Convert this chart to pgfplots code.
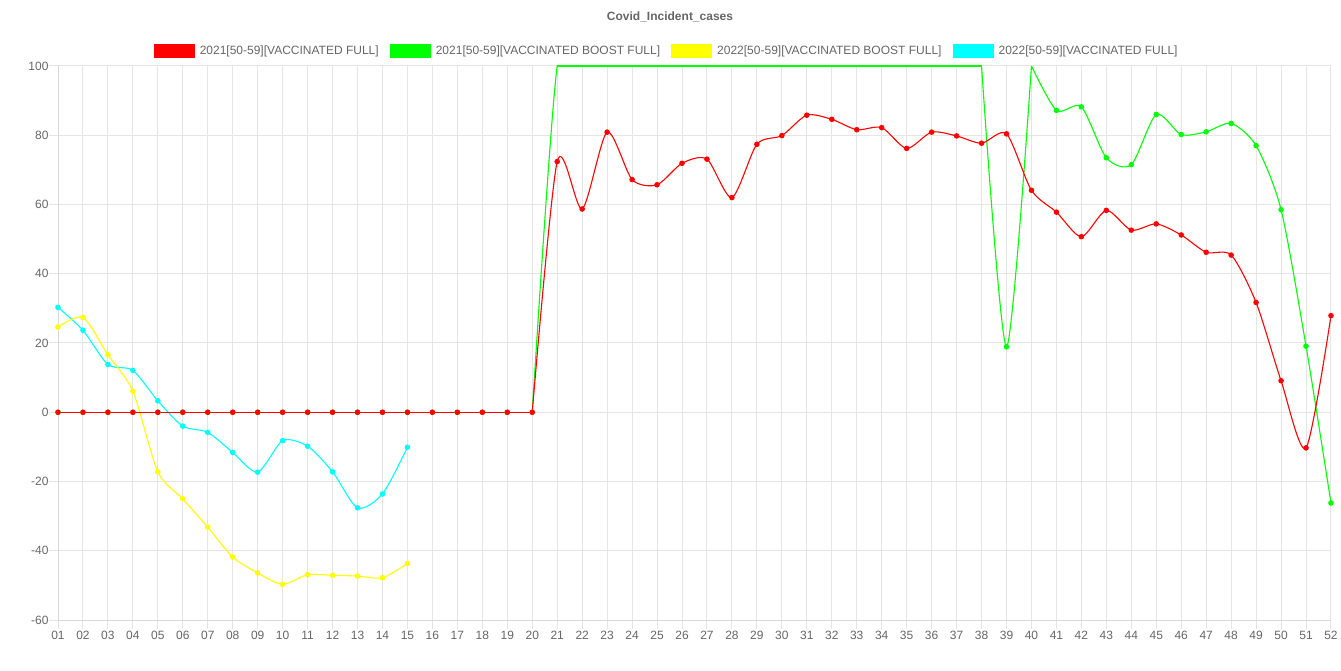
\documentclass[border=0pt]{standalone}
\usepackage{pgfplots}
\pgfplotsset{compat=1.18}
\usepackage{pgfplotstable}
\usepackage{fontspec}
\setmainfont{Liberation Sans}
\definecolor{labelgray}{HTML}{666666}
\definecolor{cred}{HTML}{FF0000}
\definecolor{cgreen}{HTML}{00FF00}
\definecolor{cyellow}{HTML}{FFFF00}
\definecolor{ccyan}{HTML}{00FFFF}

\pgfplotstableread{
x y
1 0
2 0
3 0
4 0
5 0
6 0
7 0
8 0
9 0
10 0
11 0
12 0
13 0
14 0
15 0
16 0
17 0
18 0
19 0
20 0
21 72.4
22 58.7
23 80.9
24 67.2
25 65.7
26 71.9
27 73.1
28 62.0
29 77.4
30 79.9
31 85.8
32 84.6
33 81.6
34 82.2
35 76.2
36 80.9
37 79.8
38 77.7
39 80.4
40 64.1
41 57.8
42 50.7
43 58.3
44 52.6
45 54.4
46 51.2
47 46.2
48 45.4
49 31.7
50 9.1
51 -10.3
52 27.9
}\redtab

\pgfplotstableread{
x y
1 0
2 0
3 0
4 0
5 0
6 0
7 0
8 0
9 0
10 0
11 0
12 0
13 0
14 0
15 0
16 0
17 0
18 0
19 0
20 0
21 100
22 100
23 100
24 100
25 100
26 100
27 100
28 100
29 100
30 100
31 100
32 100
33 100
34 100
35 100
36 100
37 100
38 100
39 18.9
40 100
41 87.2
42 88.2
43 73.5
44 71.5
45 86.0
46 80.2
47 81.0
48 83.4
49 77.0
50 58.5
51 19.1
52 -26.2
}\greentab

\pgfplotstableread{
x y
1 24.6
2 27.4
3 16.6
4 6.1
5 -17.2
6 -25.0
7 -33.2
8 -41.8
9 -46.4
10 -49.7
11 -46.9
12 -47.1
13 -47.3
14 -47.8
15 -43.7
}\yellowtab

\pgfplotstableread{
x y
1 30.3
2 23.7
3 13.8
4 12.1
5 3.3
6 -4.0
7 -5.8
8 -11.6
9 -17.3
10 -8.2
11 -9.8
12 -17.2
13 -27.6
14 -23.6
15 -10.1
}\cyantab

\begin{document}
\begin{tikzpicture}
\path[use as bounding box] (0,0) rectangle (1341pt,670pt);
\node[font=\bfseries\fontsize{12}{14}\selectfont, text=labelgray] at (670pt,653pt) {Covid\_Incident\_cases};
\begin{axis}[
  at={(58pt,50pt)}, anchor=south west,
  scale only axis, width=1273pt, height=554pt,
  xmin=1, xmax=52, ymin=-60, ymax=100,
  xtick={1,...,52},
  xticklabels={01,02,03,04,05,06,07,08,09,10,11,12,13,14,15,16,17,18,19,20,21,22,23,24,25,26,27,28,29,30,31,32,33,34,35,36,37,38,39,40,41,42,43,44,45,46,47,48,49,50,51,52},
  ytick={-60,-40,-20,0,20,40,60,80,100},
  /pgf/number format/assume math mode=true,
  grid=major,
  major grid style={color=black!10, line width=1pt},
  extra y ticks={0}, extra y tick labels={},
  extra y tick style={grid style={color=black!25, line width=1pt}},
  axis x line*=bottom, axis y line*=left,
  axis line style={draw=black!15, line width=1pt},
  tick pos=left, tick align=outside, major tick length=9pt,
  tick style={color=black!10, line width=1pt},
  tick label style={font=\fontsize{12}{14}\selectfont, text=labelgray},
  yticklabel style={anchor=east, xshift=3pt},
  xticklabel style={anchor=north, yshift=1pt},
  legend columns=4,
  legend style={at={(axis description cs:0.4785,1.027)}, anchor=center,
    draw=none, fill=none, font=\fontsize{12}{14}\selectfont, text=labelgray,
    /tikz/every odd column/.append style={column sep=2pt},
    /tikz/every even column/.append style={column sep=8pt},
    nodes={inner sep=3pt}},
  legend cell align=left,
  every axis plot/.append style={line width=1.1pt},
]
\addlegendimage{legend image code/.code={\fill[cred] (0pt,-6.5pt) rectangle (40pt,6.5pt);}}
\addlegendentry{2021[50-59][VACCINATED FULL]}
\addlegendimage{legend image code/.code={\fill[cgreen] (0pt,-6.5pt) rectangle (40pt,6.5pt);}}
\addlegendentry{2021[50-59][VACCINATED BOOST FULL]}
\addlegendimage{legend image code/.code={\fill[cyellow] (0pt,-6.5pt) rectangle (40pt,6.5pt);}}
\addlegendentry{2022[50-59][VACCINATED BOOST FULL]}
\addlegendimage{legend image code/.code={\fill[ccyan] (0pt,-6.5pt) rectangle (40pt,6.5pt);}}
\addlegendentry{2022[50-59][VACCINATED FULL]}

\addplot[forget plot, ccyan, smooth, tension=0.45, mark=*, mark size=2.2pt, mark options={fill=ccyan, draw=ccyan}] table {\cyantab};
\addplot[forget plot, cyellow, smooth, tension=0.45, mark=*, mark size=2.2pt, mark options={fill=cyellow, draw=cyellow}] table {\yellowtab};
% green line in pieces
\addplot[forget plot, cgreen, restrict x to domain=1:20] table {\greentab};
\addplot[forget plot, cgreen, smooth, tension=0.45, restrict x to domain=20:38] table {\greentab};
\addplot[forget plot, cgreen, restrict x to domain=21:38] table {\greentab};
\addplot[forget plot, cgreen, smooth, tension=0.45, restrict x to domain=38:40] table {\greentab};
\addplot[forget plot, cgreen, smooth, tension=0.45, restrict x to domain=40:52] table {\greentab};
\addplot[forget plot, only marks, mark=*, mark size=2.2pt, cgreen, mark options={fill=cgreen, draw=cgreen}, restrict y to domain=-60:99.5] table {\greentab};
% red line in pieces
\addplot[forget plot, cred, restrict x to domain=1:20] table {\redtab};
\addplot[forget plot, cred, smooth, tension=0.45, restrict x to domain=20:52] table {\redtab};
\addplot[forget plot, only marks, mark=*, mark size=2.2pt, cred, mark options={fill=cred, draw=cred}] table {\redtab};
\end{axis}
\end{tikzpicture}
\end{document}
